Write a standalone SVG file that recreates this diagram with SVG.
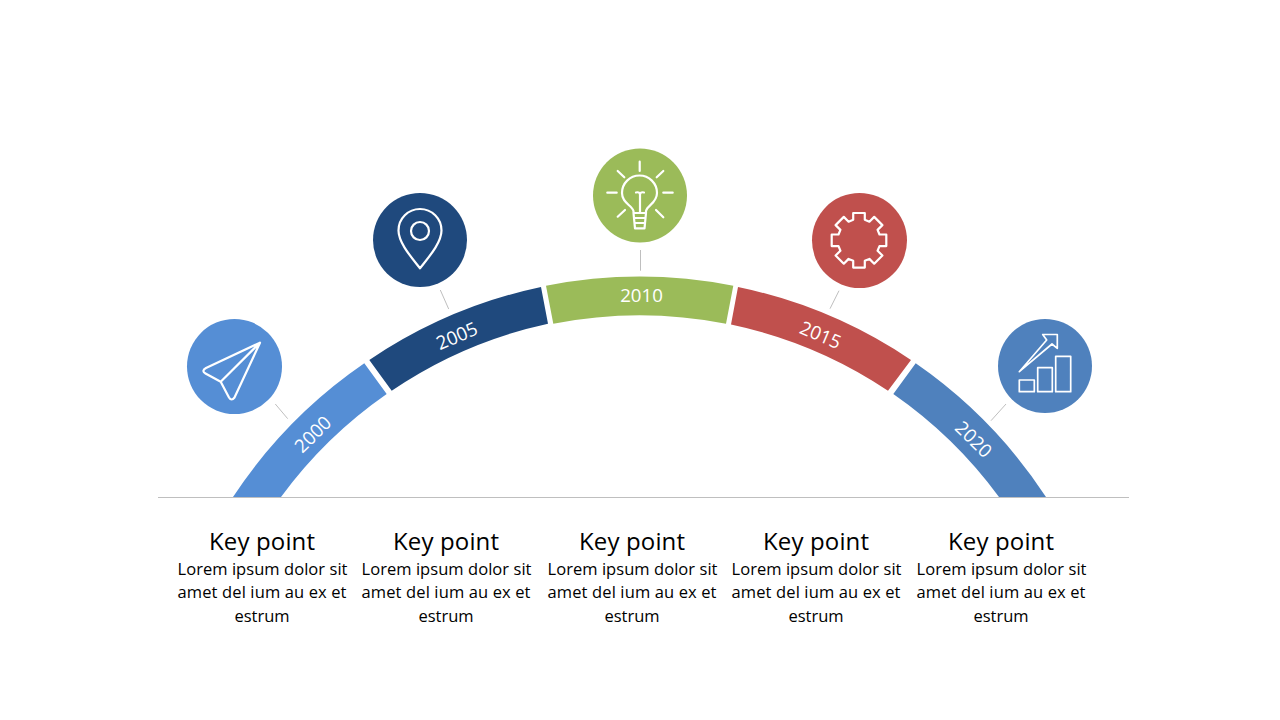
<svg xmlns="http://www.w3.org/2000/svg" width="1280" height="720" viewBox="0 0 1280 720">
<style>
text{font-family:"Open Sans","Noto Sans","Liberation Sans",sans-serif}
.yr{fill:#fff;font-size:18.700px;text-anchor:middle}
.h{fill:#000;font-size:24px;text-anchor:middle}
.b{fill:#000;font-size:16.500px;text-anchor:middle}
.ic{fill:none;stroke:#fff;stroke-width:2.200;stroke-linejoin:round;stroke-linecap:round}
.tick{fill:none;stroke:#bfbfbf;stroke-width:1}
</style>
<rect width="1280" height="720" fill="#fff"/>
<line x1="158" y1="497.500" x2="1129" y2="497.500" stroke="#bfbfbf" stroke-width="1"/>
<g id="connectors">
<line class="tick" x1="275.300" y1="404" x2="287.700" y2="418.700"/>
<line class="tick" x1="440.300" y1="290" x2="448.700" y2="309"/>
<line class="tick" x1="640.500" y1="250" x2="640.500" y2="270.700"/>
<line class="tick" x1="839" y1="290.700" x2="830" y2="308.700"/>
<line class="tick" x1="1006" y1="404" x2="991" y2="420.700"/>
</g>
<g id="node-2000">
<path fill="#558ed5" d="M233 497A486 486 0 0 1 364.300 363.300L386.700 394A447 447 0 0 0 281 497Z"/>
<text class="yr" transform="translate(317.500 439) rotate(-44.600)">2000</text>
<circle cx="234.500" cy="366.500" r="47.500" fill="#558ed5"/>
<path class="ic" d="M260 342.700L206 368Q201 371 205.500 373.500L220.700 381.700L229 397.500Q231.500 401.500 234.500 397.500ZM220.700 381.700L260 342.700"/>
</g>
<g id="node-2005">
<path fill="#1f497d" d="M369.300 360A486 486 0 0 1 541 287L548 323.700A447 447 0 0 0 391.700 390.700Z"/>
<text class="yr" transform="translate(459.500 342) rotate(-23)">2005</text>
<circle cx="420" cy="240" r="47" fill="#1f497d"/>
<path class="ic" d="M420 268.300C412 258 398.500 243 398.500 230.500A21.500 21.500 0 0 1 441.500 230.500C441.500 243 428 258 420 268.300Z"/>
<circle class="ic" cx="420" cy="231" r="9"/>
</g>
<g id="node-2010">
<path fill="#9bbb59" d="M546 285.700A486 486 0 0 1 733.300 285.700L726 323.700A447 447 0 0 0 553.300 323.700Z"/>
<text class="yr" x="641.500" y="301.500">2010</text>
<circle cx="640" cy="195.500" r="47" fill="#9bbb59"/>
<path class="ic" d="M639.700 161.700V171M607.300 192.700H616.700M663.300 192.700H672.700M617.700 171L624.300 177.300M663.300 171L656.700 177.300M617.700 216.700L625 210M663.300 217.300L656 210M633.500 213V211C631.500 205 622 203 622 193A17.500 17.500 0 0 1 657 193C657 203 647.500 205 646 211V213ZM640 213V193M636 192.500Q640 191.500 640 195Q640 191.500 644 192.500M633.500 213L635 228.300H644.500L646 213M634.500 218H645.500M635 223H645"/>
</g>
<g id="node-2015">
<path fill="#c0504d" d="M738 287A486 486 0 0 1 911 360L888 390.700A447 447 0 0 0 731 324.500Z"/>
<text class="yr" transform="translate(818 341) rotate(23)">2015</text>
<circle cx="859.500" cy="240.500" r="47.500" fill="#c0504d"/>
<path class="ic" transform="translate(859 240.300)" d="M-5.800-20.500V-27.300H5.800V-20.500L10.400-18.600L15.200-23.400L23.400-15.200L18.600-10.400L20.500-5.800H27.300V5.800H20.500L18.600 10.400L23.400 15.200L15.200 23.400L10.400 18.600L5.800 20.500V27.300H-5.800V20.500L-10.400 18.600L-15.200 23.400L-23.400 15.200L-18.600 10.400L-20.500 5.800H-27.300V-5.800H-20.500L-18.600-10.400L-23.400-15.200L-15.200-23.400L-10.400-18.600Z"/>
</g>
<g id="node-2020">
<path fill="#4f81bd" d="M915.700 363.300A486 486 0 0 1 1046 497H999A447 447 0 0 0 893.300 394Z"/>
<text class="yr" transform="translate(969 444) rotate(44.600)">2020</text>
<circle cx="1045" cy="366" r="47" fill="#4f81bd"/>
<path class="ic" style="stroke-width:1.700" d="M1019.300 380H1034.300V391.700H1019.300ZM1037.700 367.700H1052.300V391.700H1037.700ZM1055.700 356.300H1070.700V391.700H1055.700ZM1019.300 371.700L1046.700 340L1042.700 334.500H1057.300V348.300L1052 344Z"/>
</g>
<g id="text-1">
<text class="h" x="262" y="550" textLength="106">Key point</text>
<text class="b" x="262.500" y="575" textLength="170">Lorem ipsum dolor sit</text>
<text class="b" x="262" y="598" textLength="169">amet del ium au ex et</text>
<text class="b" x="262" y="622" textLength="55">estrum</text>
</g>
<g id="text-2">
<text class="h" x="446" y="550" textLength="106">Key point</text>
<text class="b" x="446.500" y="575" textLength="170">Lorem ipsum dolor sit</text>
<text class="b" x="446" y="598" textLength="169">amet del ium au ex et</text>
<text class="b" x="446" y="622" textLength="55">estrum</text>
</g>
<g id="text-3">
<text class="h" x="632" y="550" textLength="106">Key point</text>
<text class="b" x="632.500" y="575" textLength="170">Lorem ipsum dolor sit</text>
<text class="b" x="632" y="598" textLength="169">amet del ium au ex et</text>
<text class="b" x="632" y="622" textLength="55">estrum</text>
</g>
<g id="text-4">
<text class="h" x="816" y="550" textLength="106">Key point</text>
<text class="b" x="816.500" y="575" textLength="170">Lorem ipsum dolor sit</text>
<text class="b" x="816" y="598" textLength="169">amet del ium au ex et</text>
<text class="b" x="816" y="622" textLength="55">estrum</text>
</g>
<g id="text-5">
<text class="h" x="1001" y="550" textLength="106">Key point</text>
<text class="b" x="1001.500" y="575" textLength="170">Lorem ipsum dolor sit</text>
<text class="b" x="1001" y="598" textLength="169">amet del ium au ex et</text>
<text class="b" x="1001" y="622" textLength="55">estrum</text>
</g>
</svg>
